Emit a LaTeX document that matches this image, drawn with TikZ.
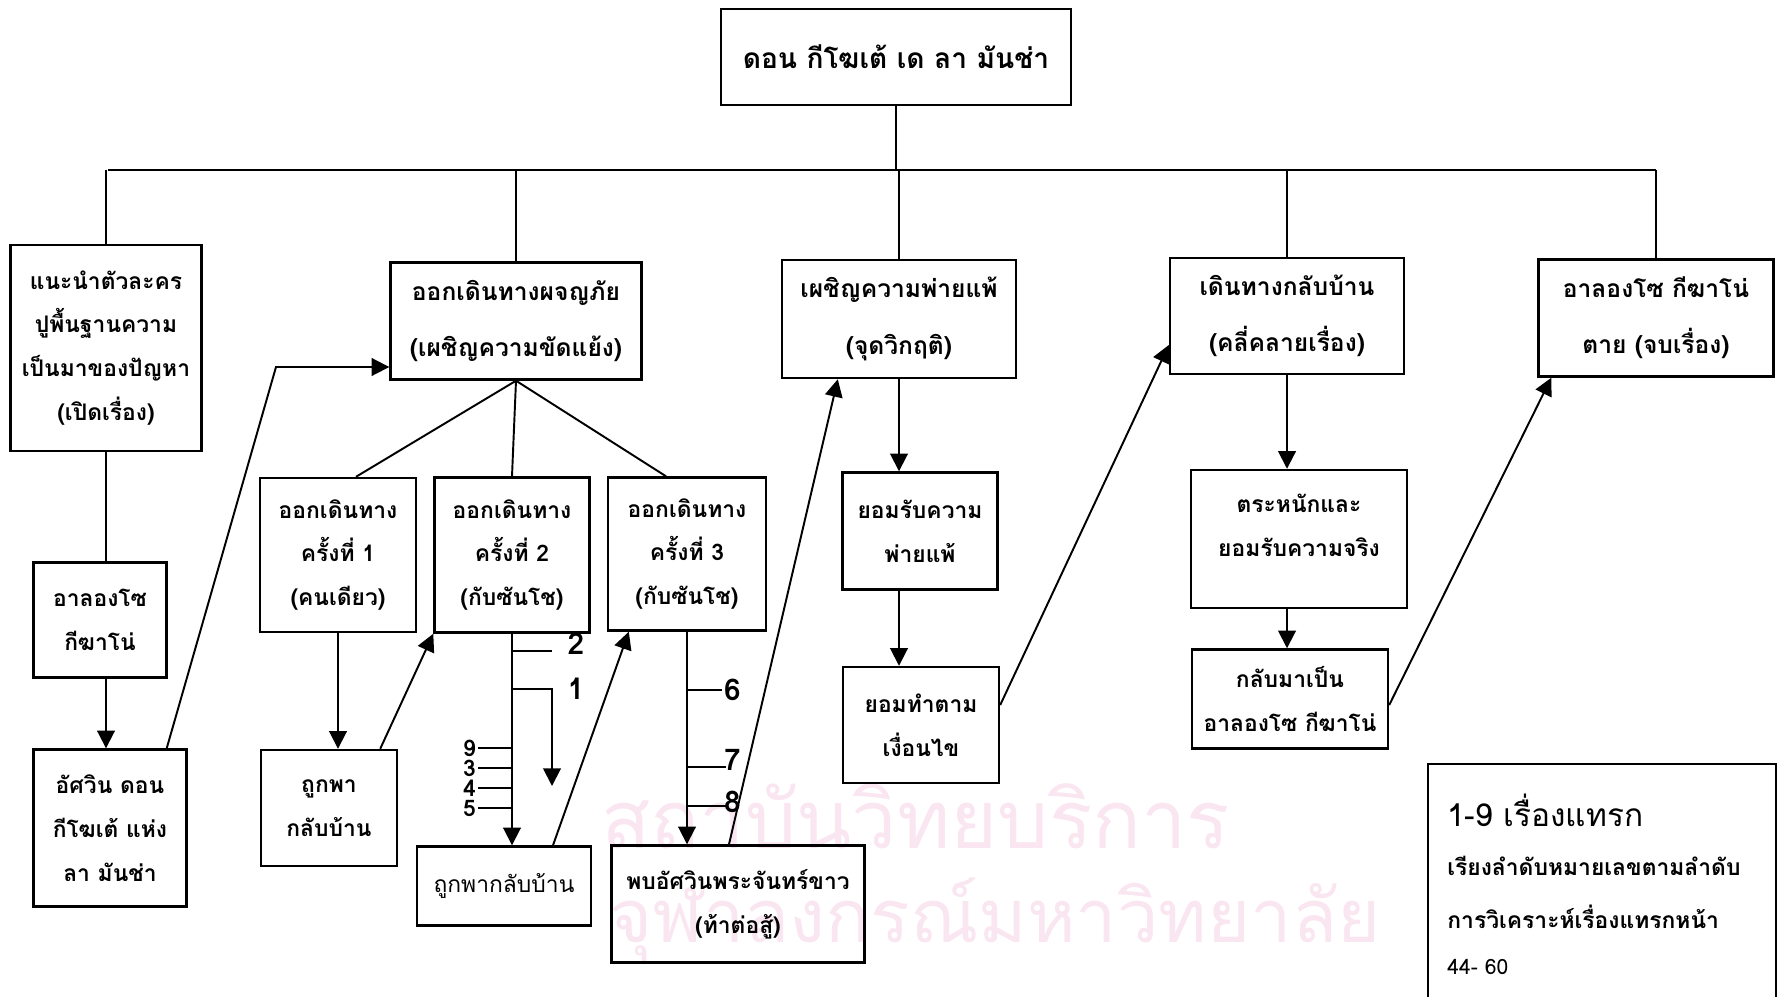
\documentclass[tikz,border=0pt]{standalone}
\usepackage{fontspec}
\newfontfamily\thaifont[Script=Thai]{Loma}
\usepackage{tikz}
\usetikzlibrary{arrows.meta,calc}
\definecolor{wmpink}{RGB}{250,230,240}
\tikzset{
  box/.style={draw, line width=1.4pt, align=center, inner sep=0pt,
    font=\thaifont\bfseries\fontsize{13}{25}\selectfont},
  stage/.style={box, font=\thaifont\bfseries\fontsize{14}{32}\selectfont},
  link/.style={draw, line width=1.1pt},
  arrow/.style={link, -{Triangle[length=10pt,width=10pt]}},
  num/.style={inner sep=1pt, font=\thaifont\bfseries\fontsize{13}{13}\selectfont},
  bignum/.style={num, font=\thaifont\bfseries\fontsize{17}{17}\selectfont},
  keytext/.style={anchor=west, inner sep=0pt, font=\thaifont\bfseries\fontsize{13}{13}\selectfont},
  wmark/.style={text=wmpink, font=\thaifont\fontsize{46}{46}\selectfont}
}
\begin{document}
\begin{tikzpicture}[x=0.02cm, y=-0.02cm]
  \useasboundingbox (0,0) rectangle (1778,997);
  % watermark
  \node[wmark] (wm1) at (916,816) {สถาบันวิทยบริการ};
  \node[wmark, font=\thaifont\fontsize{42}{42}\selectfont] (wm2) at (995,920) {จุฬาลงกรณ์มหาวิทยาลัย};

  % title and main stages
  \node[box, minimum width=7cm, minimum height=1.92cm,
    font=\thaifont\bfseries\fontsize{16}{20}\selectfont] (top) at (896,57) {ดอน กีโฆเต้ เด ลา มันช่า};
  \node[box, minimum width=3.82cm, minimum height=4.12cm] (B1) at (106,348)
    {แนะนำตัวละคร\\ปูพื้นฐานความ\\เป็นมาของปัญหา\\(เปิดเรื่อง)};
  \node[stage, minimum width=5.02cm, minimum height=2.34cm] (B2) at (516,321)
    {ออกเดินทางผจญภัย\\(เผชิญความขัดแย้ง)};
  \node[stage, minimum width=4.68cm, minimum height=2.36cm] (B3) at (899,319)
    {เผชิญความพ่ายแพ้\\(จุดวิกฤติ)};
  \node[stage, minimum width=4.68cm, minimum height=2.32cm] (B4) at (1287,316)
    {เดินทางกลับบ้าน\\(คลี่คลายเรื่อง)};
  \node[stage, minimum width=4.70cm, minimum height=2.34cm] (B5) at (1656,318)
    {อาลองโซ กีฆาโน่\\ตาย (จบเรื่อง)};

  \coordinate (busL) at (108,170);
  \coordinate (busR) at (1656,170);
  \draw[link] (busL) -- (busR);
  \draw[link] (top.south) -- (top.south |- busL);
  \foreach \n in {B1,B2,B3,B4,B5}
    \draw[link] (\n.north) -- (\n.north |- busL);

  % first column
  \node[box, minimum width=2.66cm, minimum height=2.30cm] (A) at (100,620) {อาลองโซ\\กีฆาโน่};
  \node[box, minimum width=3.06cm, minimum height=3.14cm] (C) at (110,828)
    {อัศวิน ดอน\\กีโฆเต้ แห่ง\\ลา มันช่า};
  \draw[link] (B1.south) -- (B1.south |- A.north);
  \draw[arrow] (B1.south |- A.south) -- (B1.south |- C.north);
  \coordinate (bend) at (276,367);
  \draw[arrow] ($(C.north east)+(-21,0)$) -- (bend) -- (bend -| B2.west);

  % three journeys
  \node[box, minimum width=3.12cm, minimum height=3.08cm] (S1) at (338,555)
    {ออกเดินทาง\\ครั้งที่ 1\\(คนเดียว)};
  \node[box, minimum width=3.10cm, minimum height=3.10cm] (S2) at (512,555)
    {ออกเดินทาง\\ครั้งที่ 2\\(กับซันโช)};
  \node[box, minimum width=3.16cm, minimum height=3.06cm] (S3) at (687,554)
    {ออกเดินทาง\\ครั้งที่ 3\\(กับซันโช)};
  \draw[link] (B2.south) -- ($(S1.north)+(18,0)$);
  \draw[link] (B2.south) -- (S2.north);
  \draw[link] (B2.south) -- ($(S3.north)+(-21,0)$);

  \node[box, minimum width=2.72cm, minimum height=2.32cm] (D1) at (329,808) {ถูกพา\\กลับบ้าน};
  \node[box, minimum width=3.48cm, minimum height=1.58cm,
    font=\thaifont\fontsize{13}{25}\selectfont] (D2) at (504,886) {ถูกพากลับบ้าน};
  \node[box, minimum width=5.06cm, minimum height=2.34cm] (D3) at (738,904)
    {พบอัศวินพระจันทร์ขาว\\(ท้าต่อสู้)};

  \draw[arrow] (S1.south) -- (S1.south |- D1.north);
  \draw[arrow] ($(D1.north east)+(-18,0)$) -- (S2.south west);
  \draw[arrow] (S2.south) -- (S2.south |- D2.north);
  \draw[arrow] ($(D2.north)+(49,0)$) -- ($(S3.south west)+(22,0)$);
  \draw[arrow] (S3.south) -- (S3.south |- D3.north);
  \draw[arrow] ($(D3.north)+(-9,0)$) -- ($(B3.south west)+(57,0)$);

  % inserted stories 1-9
  \node[bignum] (n2) at (576,644) {2};
  \node[bignum] (n1) at (576,689) {1};
  \draw[link] (S2.south |- 0,651) -- (552,651);
  \draw[arrow] (S2.south |- n1) -- (552,689) -- (552,786);
  \node[num, anchor=east] (n9) at (478,748) {9};
  \node[num, anchor=east] (n3) at (478,768) {3};
  \node[num, anchor=east] (n4) at (478,788) {4};
  \node[num, anchor=east] (n5) at (478,808) {5};
  \foreach \k in {n9,n3,n4,n5}
    \draw[link] (\k.east) -- (\k.east -| S2.south);
  \node[bignum, anchor=west] (n6) at (722,690) {6};
  \node[bignum, anchor=west] (n7) at (722,760) {7};
  \node[bignum, anchor=west] (n8) at (722,802) {8};
  \draw[link] (S3.south |- n6) -- (n6.west);
  \draw[link] (S3.south |- 0,767) -- (726,767);
  \draw[link] (S3.south |- 0,806) -- (726,806);

  % defeat
  \node[box, minimum width=3.10cm, minimum height=2.34cm] (E1) at (920,531) {ยอมรับความ\\พ่ายแพ้};
  \node[box, minimum width=3.12cm, minimum height=2.32cm] (E2) at (921,725) {ยอมทำตาม\\เงื่อนไข};
  \draw[arrow] (B3.south) -- (B3.south |- E1.north);
  \draw[arrow] (B3.south |- E1.south) -- (B3.south |- E2.north);
  \draw[arrow] ($(E2.east)+(0,-20)$) -- ($(B4.west)+(0,29)$);

  % return home
  \node[box, minimum width=4.32cm, minimum height=2.76cm] (F1) at (1299,539)
    {ตระหนักและ\\ยอมรับความจริง\\[-9pt]\mbox{}};
  \node[box, minimum width=3.92cm, minimum height=1.98cm] (F2) at (1290,699) {กลับมาเป็น\\อาลองโซ กีฆาโน่};
  \draw[arrow] (B4.south) -- (B4.south |- F1.north);
  \draw[arrow] (B4.south |- F1.south) -- (B4.south |- F2.north);
  \draw[arrow] ($(F2.east)+(0,6)$) -- ($(B5.south west)+(14,0)$);

  % key
  \node[draw, line width=1.4pt, anchor=north west, inner sep=0pt,
    minimum width=6.96cm, minimum height=4.8cm] (key) at (1427,763) {};
  \node[keytext, font=\thaifont\fontsize{18}{18}\selectfont] (k1) at (1447,810) {1-9 เรื่องแทรก};
  \node[keytext] (k2) at (1447,866) {เรียงลำดับหมายเลขตามลำดับ};
  \node[keytext] (k3) at (1447,917) {การวิเคราะห์เรื่องแทรกหน้า};
  \node[keytext, font=\thaifont\fontsize{12}{12}\selectfont] (k4) at (1447,967) {44- 60};
\end{tikzpicture}
\end{document}
